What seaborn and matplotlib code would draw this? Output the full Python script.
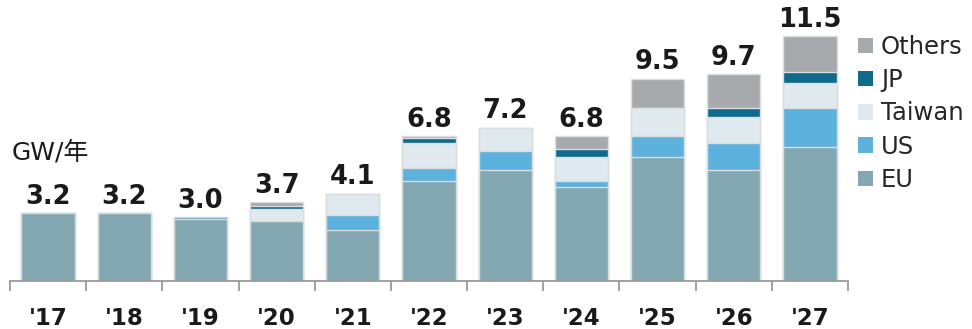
import numpy as np
import pandas as pd
import matplotlib
matplotlib.use("Agg")
import matplotlib.pyplot as plt
from matplotlib.patches import Patch
from matplotlib.ticker import FixedLocator
import seaborn as sns

years = ["'17", "'18", "'19", "'20", "'21", "'22", "'23", "'24", "'25", "'26", "'27"]
eu = [3.2, 3.2, 2.9, 2.8, 2.4, 4.7, 5.2, 4.4, 5.8, 5.2, 6.3]
us = [0.0, 0.0, 0.0, 0.0, 0.7, 0.6, 0.9, 0.3, 1.0, 1.3, 1.8]
taiwan = [0.0, 0.0, 0.0, 0.6, 1.0, 1.2, 1.1, 1.1, 1.3, 1.2, 1.2]
jp = [0.0, 0.0, 0.1, 0.1, 0.0, 0.2, 0.0, 0.4, 0.0, 0.4, 0.5]
others = [0.0, 0.0, 0.0, 0.2, 0.0, 0.1, 0.0, 0.6, 1.4, 1.6, 1.7]
totals = [3.2, 3.2, 3.0, 3.7, 4.1, 6.8, 7.2, 6.8, 9.5, 9.7, 11.5]

series_names = ["EU", "US", "Taiwan", "JP", "Others"]
series_values = [eu, us, taiwan, jp, others]
series_colors = ["#84a8b2", "#5cb1dd", "#e0e9ed", "#0f6a8c", "#a6aaad"]

sns.set_theme(style="white")
plt.rcParams["font.family"] = ["DejaVu Sans", "Noto Sans CJK JP"]

fig = plt.figure(figsize=(9.72, 3.29), dpi=100)
ax = fig.add_axes([10 / 972, 48 / 329, 838 / 972, 261 / 329])

# Stack by overlaying cumulative heights, tallest layer first
cum = np.cumsum(np.array(series_values), axis=0)
df = pd.DataFrame({"year": years})
for k in range(len(series_names) - 1, -1, -1):
    df["h"] = cum[k]
    sns.barplot(data=df, x="year", y="h", color=series_colors[k], width=0.7,
                saturation=1, edgecolor="#d9dee0", linewidth=1.0, ax=ax)

for i, t in enumerate(totals):
    ax.text(i, t + 0.15, f"{t:.1f}", ha="center", va="bottom",
            fontsize=18.5, fontweight="bold", color="#1a1a1a")

ax.set_xlim(-0.5, 10.5)
ax.set_ylim(0, 12.25)
ax.set_xlabel("")
ax.set_ylabel("")
ax.set_yticks([])
for s in ["top", "right", "left"]:
    ax.spines[s].set_visible(False)
ax.spines["bottom"].set_color("#9a9a9a")
ax.spines["bottom"].set_linewidth(1.3)

ax.xaxis.set_minor_locator(FixedLocator(np.arange(-0.5, 11, 1.0)))
ax.tick_params(axis="x", which="minor", direction="out", length=7, width=1.3,
               color="#9a9a9a", bottom=True)
ax.tick_params(axis="x", which="major", length=0, pad=19, labelsize=16.5)
for lbl in ax.get_xticklabels():
    lbl.set_fontweight("bold")
    lbl.set_color("#1a1a1a")

fig.text(12 / 972, 1 - 152 / 329, "GW/年", fontsize=18, va="center", ha="left",
         color="#1a1a1a")

handles = [Patch(facecolor=series_colors[k], edgecolor="none") for k in range(4, -1, -1)]
labels = [series_names[k] for k in range(4, -1, -1)]
fig.legend(handles, labels, loc="upper left", bbox_to_anchor=(858 / 972, 1 - 35 / 329),
           frameon=False, fontsize=17.5, handlelength=0.6, handleheight=0.6,
           handletextpad=0.35, labelspacing=0.38, borderaxespad=0, borderpad=0)

fig.savefig("out.png", dpi=100)
